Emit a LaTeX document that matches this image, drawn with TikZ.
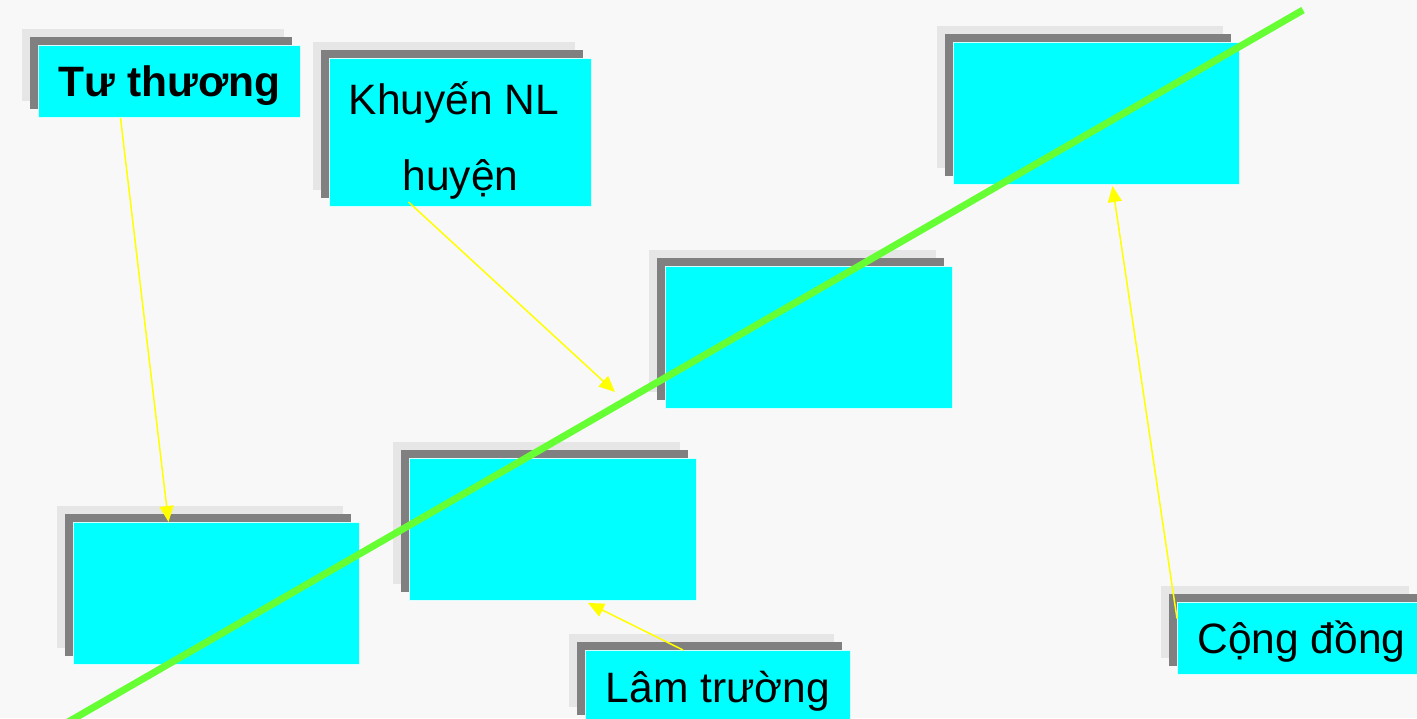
\documentclass[tikz,border=0pt]{standalone}
\usepackage{fontspec}
\setmainfont{Liberation Sans}
\usetikzlibrary{arrows.meta,shadows}
\definecolor{bgc}{HTML}{F8F8F8}
\definecolor{boxcyan}{HTML}{00FFFF}
\definecolor{boxedge}{HTML}{D8FFFF}
\definecolor{shdark}{HTML}{808080}
\definecolor{shlight}{HTML}{E6E6E6}
\definecolor{lgreen}{HTML}{66FF33}
\definecolor{arrowyellow}{HTML}{FFFF00}
\begin{document}
\begin{tikzpicture}[x=1pt,y=-1pt,
  box/.style={rectangle, fill=boxcyan, draw=boxedge, line width=1pt, inner sep=0pt,
    anchor=north west,
    general shadow={draw=none, fill=shlight, shadow xshift=-17pt, shadow yshift=17pt},
    general shadow={draw=none, fill=shdark, shadow xshift=-9pt, shadow yshift=9pt},
    font=\fontsize{42.5}{76}\selectfont},
  oneline/.style={text height=30pt, text depth=0pt},
  arr/.style={draw=arrowyellow, line width=1.5pt, -{Triangle[length=16pt,width=14pt]}},
  diag/.style={draw=lgreen, line width=7pt}]
\clip (0,0) rectangle (1417,718);
\fill[bgc] (0,0) rectangle (1417,718);
\node[box, oneline, minimum width=262pt, minimum height=72pt] (A) at (38,45) {\bfseries Tư thương};
\node[box, align=center, minimum width=262pt, minimum height=148pt] (B) at (329,58) {\rule{0pt}{48pt}Khuyến NL\hspace*{13pt}\\huyện};
\node[box, minimum width=286pt, minimum height=142pt] (C) at (953,42) {};
\node[box, minimum width=287pt, minimum height=142pt] (D) at (665,266) {};
\node[box, minimum width=287pt, minimum height=142pt] (E) at (409,458) {};
\node[box, minimum width=286pt, minimum height=142pt] (F) at (73,522) {};
\node[box, oneline, minimum width=265pt, minimum height=73pt] (G) at (585,650) {Lâm trường};
\node[box, oneline, minimum width=248pt, minimum height=72pt] (H) at (1177,602) {Cộng đồng};
\coordinate (g1) at (66,723.2);
\coordinate (g2) at (1303,10);
\draw[diag] (g1) -- (g2);
\coordinate (k) at (615,392);
\draw[arr] ([xshift=-49pt]A.south) -- ([xshift=-48pt]F.north);
\draw[arr] ([xshift=-52pt,yshift=5pt]B.south) -- (k);
\draw[arr] ([xshift=-35pt]G.north) -- ([xshift=35pt,yshift=-2pt]E.south);
\draw[arr] ([yshift=20pt]H.west) -- ([xshift=16pt,yshift=-1pt]C.south);
\end{tikzpicture}
\end{document}
